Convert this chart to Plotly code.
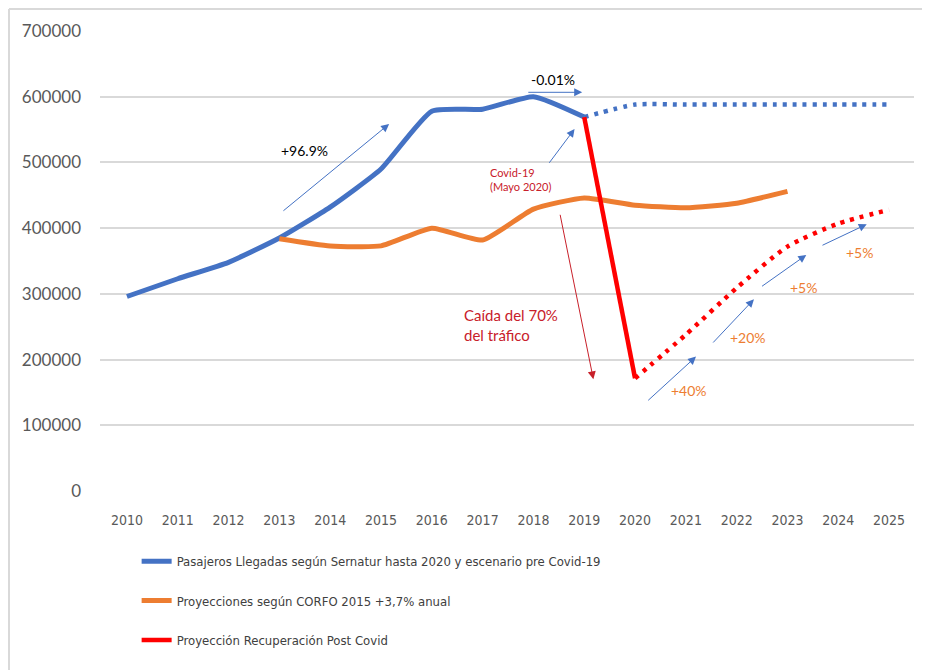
import plotly.graph_objects as go

years = list(range(2010, 2026))
year_labels = [str(y) for y in years]

# Blue: Pasajeros llegadas (Sernatur) 2010-2019
blue_years = list(range(2010, 2020))
blue_vals = [296000, 323000, 348000, 385000, 432000, 490000, 578000, 581000, 600000, 569000]
# Blue dotted: pre-Covid scenario 2019-2025
blue_proj_years = list(range(2019, 2026))
blue_proj_vals = [569000, 588000, 588000, 588000, 588000, 588000, 588000]
# Orange: CORFO 2015 projections 2013-2023
orange_years = list(range(2013, 2024))
orange_vals = [384000, 373000, 373000, 400000, 382000, 429000, 446000, 435000, 431000, 438000, 456000]
# Red solid: Covid drop 2019-2020
red_drop_years = [2019, 2020]
red_drop_vals = [569000, 171500]
# Red dotted: recovery 2020-2025
red_rec_years = list(range(2020, 2026))
red_rec_vals = [171500, 238000, 309000, 372000, 407000, 428000]

legend_names = [
    "Pasajeros Llegadas según Sernatur hasta 2020 y escenario pre Covid-19",
    "Proyecciones según CORFO 2015 +3,7% anual",
    "Proyección Recuperación Post Covid",
]

BLUE = "#4472C4"
ORANGE = "#ED7D31"
RED = "#FF0000"
DARKRED = "#C8202A"
NARROW = "Liberation Sans Narrow, Arial Narrow, DejaVu Sans Condensed, sans-serif"
MAIN = "Lato, Carlito, Calibri, sans-serif"

fig = go.Figure()
fig.add_trace(go.Scatter(x=blue_years, y=blue_vals, mode="lines", name=legend_names[0],
                         line=dict(color=BLUE, width=5, shape="spline", smoothing=0.5),
                         legendgroup="a"))
fig.add_trace(go.Scatter(x=blue_proj_years, y=blue_proj_vals, mode="lines", showlegend=False,
                         line=dict(color=BLUE, width=4.5, dash="4px,6px", shape="spline", smoothing=0.6)))
fig.add_trace(go.Scatter(x=orange_years, y=orange_vals, mode="lines", name=legend_names[1],
                         line=dict(color=ORANGE, width=5, shape="spline", smoothing=0.5),
                         legendgroup="b"))
fig.add_trace(go.Scatter(x=red_drop_years, y=red_drop_vals, mode="lines", name=legend_names[2],
                         line=dict(color=RED, width=4.5), legendgroup="c"))
fig.add_trace(go.Scatter(x=red_rec_years, y=red_rec_vals, mode="lines", showlegend=False,
                         line=dict(color=RED, width=4.5, dash="4px,6px", shape="spline", smoothing=0.6)))

# arrows: (head_x, head_y, tail_x, tail_y, color)
arrows = [
    (2015.16, 558500, 2013.05, 424600, BLUE),
    (2018.96, 606700, 2017.87, 606700, BLUE),
    (2018.81, 550900, 2018.29, 497200, BLUE),
    (2019.18, 170000, 2018.52, 422600, DARKRED),
    (2021.20, 204500, 2020.23, 135900, BLUE),
    (2022.34, 291700, 2021.51, 223700, BLUE),
    (2023.37, 359200, 2022.47, 310000, BLUE),
    (2024.56, 405900, 2023.66, 372900, BLUE),
]
for hx, hy, tx, ty, c in arrows:
    fig.add_annotation(x=hx, y=hy, ax=tx, ay=ty, xref="x", yref="y", axref="x", ayref="y",
                       text="", showarrow=True, arrowhead=2, arrowsize=1.6, arrowwidth=1,
                       arrowcolor=c, standoff=0, startstandoff=0)

# labels: (text, x, y, color, size, xanchor)
labels = [
    ("+96.9%", 2013.5, 517400, "#000000", 14, "center"),
    ("-0.01%", 2018.39, 625500, "#000000", 14, "center"),
    ("Covid-19<br>(Mayo 2020)", 2017.10, 473500, DARKRED, 11, "left"),
    ("Caída del 70%<br>del tráfico", 2016.60, 252000, DARKRED, 15, "left"),
    ("+40%", 2021.07, 153700, ORANGE, 14, "center"),
    ("+20%", 2022.23, 233900, ORANGE, 14, "center"),
    ("+5%", 2023.31, 310000, ORANGE, 14, "center"),
    ("+5%", 2024.41, 362600, ORANGE, 14, "center"),
]
for t, x, y, c, s, xa in labels:
    fig.add_annotation(x=x, y=y, xref="x", yref="y", text=t, showarrow=False,
                       font=dict(color=c, size=s, family=MAIN), xanchor=xa, align="left")

# outer frame (left and top edges)
fig.add_shape(type="line", xref="paper", yref="paper", x0=-0.1118, x1=-0.1118, y0=1.0478, y1=-0.5,
              line=dict(color="#d9d9d9", width=2))
fig.add_shape(type="line", xref="paper", yref="paper", x0=-0.1118, x1=1.1, y0=1.0478, y1=1.0478,
              line=dict(color="#d9d9d9", width=2))

fig.update_layout(
    width=922, height=662,
    margin=dict(l=92, r=16, t=23, b=179),
    paper_bgcolor="white", plot_bgcolor="white",
    font=dict(family=MAIN, color="#595959"),
    showlegend=True,
    legend=dict(x=0.045, y=-0.12, xanchor="left", yanchor="top", orientation="v",
                font=dict(family=NARROW, size=13, color="#404040"),
                itemwidth=30, tracegroupgap=19.5, bgcolor="rgba(0,0,0,0)"),
)
fig.update_xaxes(range=[2009.47, 2025.49], tickvals=years, ticktext=year_labels,
                 showgrid=False, zeroline=False, showline=False, ticks="",
                 tickfont=dict(family=NARROW, size=14, color="#595959"),
                 ticklabelstandoff=19)
fig.update_yaxes(range=[0, 700000], dtick=100000, tickformat=".0f",
                 showgrid=True, gridcolor="#d9d9d9", gridwidth=1.5,
                 zeroline=False, showline=False, ticks="",
                 tickfont=dict(family=MAIN, size=17, color="#595959"),
                 ticklabelstandoff=18)

fig.write_html("out.html")
